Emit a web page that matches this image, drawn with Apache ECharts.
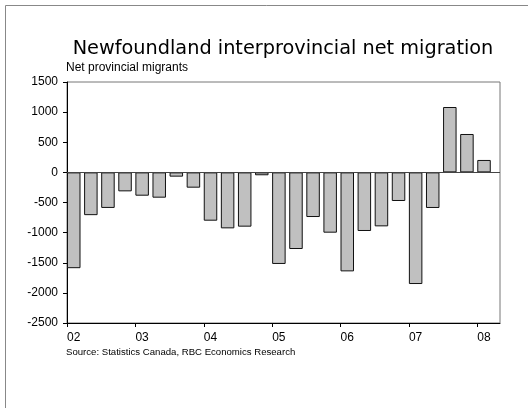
<!DOCTYPE html>
<html>
<head>
<meta charset="utf-8">
<script src="https://cdn.jsdelivr.net/npm/echarts@6/dist/echarts.min.js"></script>
<style>html,body{margin:0;padding:0;background:#fff}#c{width:528px;height:408px}</style>
</head>
<body>
<div id="c"></div>
<script>
// Quarterly periods 2002Q1 .. 2008Q1
var quarters = ['02Q1','02Q2','02Q3','02Q4','03Q1','03Q2','03Q3','03Q4','04Q1','04Q2','04Q3','04Q4',
  '05Q1','05Q2','05Q3','05Q4','06Q1','06Q2','06Q3','06Q4','07Q1','07Q2','07Q3','07Q4','08Q1'];
var netMigrants = [-1590,-710,-590,-315,-387,-420,-71,-254,-802,-929,-901,-48,
  -1520,-1272,-741,-1001,-1643,-973,-896,-475,-1853,-591,1085,637,206];
var yearLabels = ['02','03','04','05','06','07','08'];

var chart = echarts.init(document.getElementById('c'), null, {renderer:'canvas'});
var font = 'Liberation Sans, Arial, sans-serif';
var seriesData = netMigrants.map(function(v, i){ return [i + 0.395, v]; });
var yearTickVals = yearLabels.map(function(_, k){ return k * 4; });

chart.setOption({
  animation: false,
  backgroundColor: '#fff',
  title: [{
    text: 'Newfoundland interprovincial net migration',
    left: 283, top: 39, textAlign: 'center', padding: 0,
    textStyle: {fontFamily: 'DejaVu Sans, sans-serif', fontSize: 19.3, fontWeight: 'normal', color: '#000'}
  },{
    text: 'Net provincial migrants',
    left: 66, top: 62, padding: 0,
    textStyle: {fontFamily: font, fontSize: 12, fontWeight: 'normal', color: '#000'}
  },{
    text: 'Source: Statistics Canada, RBC Economics Research',
    left: 66, top: 347, padding: 0,
    textStyle: {fontFamily: font, fontSize: 9.6, fontWeight: 'normal', color: '#000'}
  }],
  graphic: [
    {type:'line', shape:{x1:5.5,y1:5.5,x2:528,y2:5.5}, style:{stroke:'#888', lineWidth:1}, silent:true},
    {type:'line', shape:{x1:5.5,y1:5.5,x2:5.5,y2:408}, style:{stroke:'#888', lineWidth:1}, silent:true}
  ],
  grid: {left: 67, right: 28, top: 82, bottom: 85, show: true, borderColor: '#777', borderWidth: 1, containLabel: false},
  xAxis: {
    type: 'value', min: 0, max: 25.33,
    axisLine: {show: true, onZero: false, lineStyle: {color: '#000', width: 1}},
    axisTick: {show: true, customValues: yearTickVals, length: 4, inside: false, lineStyle: {color: '#000'}},
    axisLabel: {customValues: yearTickVals, formatter: function(v){ return yearLabels[Math.round(v/4)] || ''; },
      align: 'left', margin: 9, fontFamily: font, fontSize: 12, color: '#000'},
    splitLine: {show: false}
  },
  yAxis: {
    type: 'value', min: -2500, max: 1500, interval: 500,
    axisLine: {show: true, onZero: false, lineStyle: {color: '#000', width: 1}},
    axisTick: {show: true, length: 4, lineStyle: {color: '#000'}},
    axisLabel: {fontFamily: font, fontSize: 12, color: '#000', margin: 9,
      formatter: function(v){ return String(v); }},
    splitLine: {show: false}
  },
  series: [{
    type: 'bar',
    data: seriesData,
    barWidth: 13.5,
    itemStyle: {color: '#c0c0c0', borderColor: '#111', borderWidth: 1},
    markLine: {
      silent: true, symbol: 'none',
      label: {show: false},
      lineStyle: {color: '#444', width: 1, type: 'solid'},
      data: [{yAxis: 0}]
    }
  }]
});
</script>
</body>
</html>
